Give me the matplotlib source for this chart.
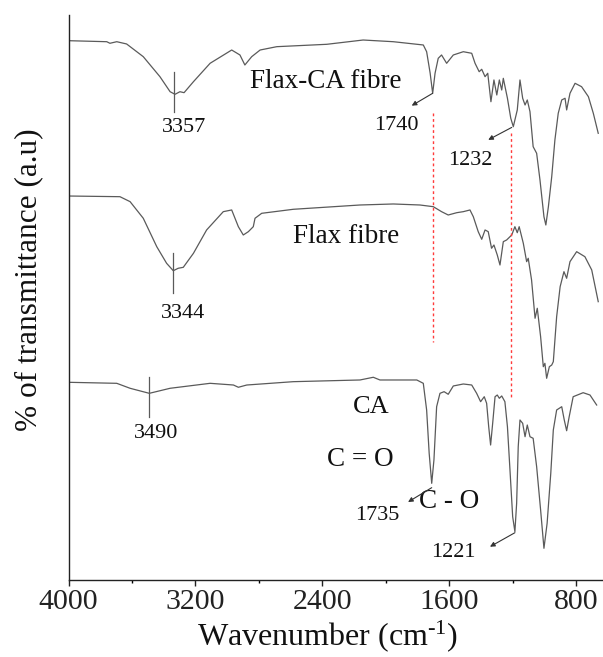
import matplotlib
matplotlib.use("Agg")
import matplotlib.pyplot as plt
from matplotlib.ticker import FixedLocator

plt.rcParams['font.family'] = ['Liberation Serif', 'DejaVu Serif']
plt.rcParams['mathtext.fontset'] = 'custom'
plt.rcParams['mathtext.rm'] = 'Liberation Serif'
plt.rcParams['mathtext.it'] = 'Liberation Serif:italic'
plt.rcParams['mathtext.bf'] = 'Liberation Serif:bold'

# ---- data (wavenumber cm^-1, transmittance a.u.) ----
flax_ca_wn = [4000, 3759, 3739, 3696, 3634, 3529, 3424, 3360, 3329, 3298, 3272, 3213, 3108, 2972,
              2920, 2889, 2846, 2793, 2688, 2373, 2144, 1954, 1765, 1744, 1722, 1706, 1691, 1671,
              1650, 1618, 1576, 1513, 1460, 1439, 1413, 1397, 1376, 1359, 1339, 1320, 1302, 1286,
              1271, 1261, 1235, 1214, 1198, 1173, 1156, 1139, 1124, 1110, 1093, 1073, 1051, 1030,
              1005, 993, 977, 956, 936, 915, 893, 872, 862, 841, 809, 768, 725, 694, 663]
flax_ca_t = [95.45, 95.27, 94.99, 95.27, 94.87, 92.62, 89.08, 86.42, 85.96, 86.42, 86.25, 88.19, 91.45, 93.80,
             92.92, 91.15, 92.62, 93.80, 94.39, 94.81, 95.57, 95.27, 94.69, 93.50, 89.73, 86.14, 89.68, 92.33,
             92.92, 91.45, 92.92, 93.50, 93.22, 91.45, 89.96, 90.39, 89.08, 89.68, 84.65, 88.50, 85.84, 88.50,
             86.72, 88.79, 85.26, 81.72, 80.23, 83.19, 88.50, 85.26, 84.07, 84.96, 82.89, 76.69, 75.52, 70.80,
             64.30, 62.83, 66.07, 71.38, 77.88, 82.60, 84.96, 85.26, 83.19, 86.14, 87.91, 87.31, 85.54, 82.60, 79.06]

flax_wn = [4000, 3676, 3612, 3529, 3444, 3382, 3340, 3309, 3277, 3213, 3130, 3025, 2972, 2930, 2899,
           2867, 2836, 2825, 2783, 2584, 2164, 1954, 1786, 1702, 1650, 1608, 1554, 1513, 1471, 1450,
           1419, 1397, 1376, 1356, 1335, 1320, 1299, 1282, 1261, 1240, 1208, 1188, 1173, 1161, 1135,
           1114, 1104, 1083, 1061, 1047, 1026, 1009, 999, 988, 971, 956, 946, 925, 903, 879, 862,
           841, 799, 747, 704, 663]
flax_t = [67.96, 67.84, 66.96, 64.02, 58.99, 56.05, 54.74, 55.17, 55.34, 57.82, 61.95, 65.19, 65.49, 62.53, 61.06,
          61.65, 62.53, 64.02, 64.90, 65.61, 66.37, 66.55, 66.37, 66.07, 65.19, 64.60, 65.01, 65.19, 65.49, 64.30,
          61.65, 60.30, 61.95, 61.65, 58.71, 59.29, 57.52, 55.75, 59.88, 60.18, 61.06, 62.53, 61.47, 62.53, 59.59,
          56.34, 56.94, 53.10, 46.32, 48.09, 43.06, 37.75, 38.35, 35.70, 37.75, 38.05, 38.64, 46.60, 51.91, 54.57, 53.40,
          56.34, 58.11, 57.22, 54.87, 49.26]

ca_wn = [4000, 3696, 3612, 3491, 3360, 3108, 2961, 2930, 2877, 2584, 2164, 2080, 2038, 1806, 1765,
         1744, 1728, 1712, 1698, 1681, 1660, 1634, 1608, 1576, 1513, 1460, 1429, 1404, 1381, 1366,
         1353, 1341, 1328, 1313, 1299, 1286, 1271, 1251, 1235, 1219, 1202, 1188, 1177, 1167, 1156,
         1139, 1124, 1110, 1093, 1073, 1051, 1026, 1005, 985, 962, 946, 925, 893, 877, 862, 846,
         821, 758, 715, 673]
ca_t = [34.99, 34.81, 33.93, 33.04, 33.93, 34.81, 34.51, 34.11, 34.51, 35.10, 35.40, 35.88, 35.40, 35.40, 34.81,
        30.09, 22.42, 17.11, 21.24, 30.67, 33.04, 33.33, 32.87, 34.34, 34.69, 34.51, 33.04, 31.56, 32.44, 31.27,
        27.13, 23.89, 27.73, 32.44, 32.74, 32.16, 32.57, 31.56, 27.13, 19.47, 11.20, 8.55, 13.58, 23.59, 28.32,
        27.73, 25.36, 27.43, 25.36, 25.08, 20.05, 12.39, 5.61, 10.04, 18.88, 26.55, 30.09, 30.67, 28.32, 26.42, 28.90,
        32.44, 33.15, 32.74, 30.97]

major_ticks = [4000, 3200, 2400, 1600, 800]
minor_ticks = [3600, 2800, 2000, 1200]

fig = plt.figure(figsize=(6.03, 6.57), dpi=100)
ax = fig.add_axes([0.1136, 0.1172, 0.8864, 0.86])

lc = '#5a5a5a'
for wn, t in [(flax_ca_wn, flax_ca_t), (flax_wn, flax_t), (ca_wn, ca_t)]:
    ax.plot(wn, t, color=lc, lw=0.9)

ax.set_xlim(4000, 633)
ax.set_ylim(0, 100)

for s in ['top', 'right']:
    ax.spines[s].set_visible(False)
for s in ['left', 'bottom']:
    ax.spines[s].set_linewidth(1.0)
    ax.spines[s].set_color('#222222')

ax.set_yticks([])
ax.xaxis.set_major_locator(FixedLocator(major_ticks))
ax.xaxis.set_minor_locator(FixedLocator(minor_ticks))
ax.set_xticklabels([str(v) for v in major_ticks])
ax.tick_params(axis='x', which='major', direction='out', length=4, width=1.0, labelsize=21.5, pad=2.5, colors='#222222')
ax.tick_params(axis='x', which='minor', direction='out', length=2.5, width=1.0)

ax.set_xlabel('Wavenumber (cm$^{\\text{-1}}$)', fontsize=23, color='#111111')
ax.xaxis.set_label_coords(0.484, -0.068)
ax.xaxis.label.set_va('top')
ax.set_ylabel('% of transmittance (a.u)', fontsize=22.5, color='#111111')
ax.yaxis.set_label_coords(-0.048, 0.531)

tc = '#111111'
ax.text(2378, 88.2, 'Flax-CA fibre', fontsize=19.5, ha='center', va='center', color=tc)
ax.text(2248, 60.76, 'Flax fibre', fontsize=19.5, ha='center', va='center', color=tc)
ax.text(2096, 30.67, 'CA', fontsize=19, ha='center', va='center', color=tc)
ax.text(2164, 21.24, 'C = O', fontsize=19.5, ha='center', va='center', color=tc)
ax.text(1603, 13.86, 'C - O', fontsize=19.5, ha='center', va='center', color=tc)

num_fs = 16
ax.text(3272, 80.0, '3357', fontsize=num_fs, ha='center', va='center', color=tc)
ax.text(3277, 47.2, '3344', fontsize=num_fs, ha='center', va='center', color=tc)
ax.text(3449, 26.0, '3490', fontsize=num_fs, ha='center', va='center', color=tc)
ax.text(1933, 80.5, '1740', fontsize=num_fs, ha='center', va='center', color=tc)
ax.text(1471, 74.3, '1232', fontsize=num_fs, ha='center', va='center', color=tc)
ax.text(2056, 11.5, '1735', fontsize=num_fs, ha='center', va='center', color=tc)
ax.text(1576, 4.78, '1221', fontsize=num_fs, ha='center', va='center', color=tc)

# peak marker ticks
ax.plot([3334, 3334], [89.97, 82.9], color=lc, lw=0.9)
ax.plot([3340, 3340], [57.82, 50.74], color=lc, lw=0.9)
ax.plot([3491, 3491], [35.9, 28.85], color=lc, lw=0.9)

# arrows
ap = dict(arrowstyle='-|>', lw=0.8, color='#333333', mutation_scale=7, shrinkA=0, shrinkB=0)
ax.annotate('', xy=(1838, 83.95), xytext=(1706, 86.14), arrowprops=ap)
ax.annotate('', xy=(1356, 77.9), xytext=(1208, 80.1), arrowprops=ap)
ax.annotate('', xy=(1861, 13.8), xytext=(1712, 16.34), arrowprops=ap)
ax.annotate('', xy=(1345, 5.89), xytext=(1188, 8.37), arrowprops=ap)

# red dashed reference lines
ax.plot([1702, 1702], [82.6, 42.2], color='#ff3b3b', lw=1.0, ls=(0, (2, 2)))
ax.plot([1214, 1214], [79.06, 32.2], color='#ff3b3b', lw=1.0, ls=(0, (2, 2)))

fig.savefig('out.png', dpi=100)
